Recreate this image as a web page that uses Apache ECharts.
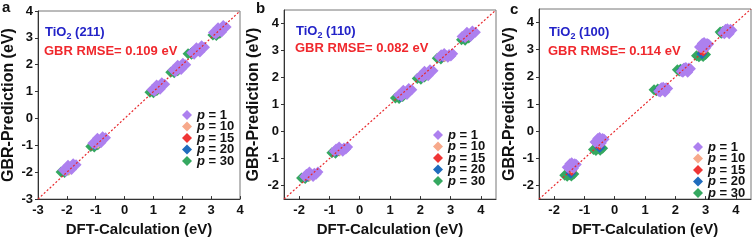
<!DOCTYPE html>
<html>
<head>
<meta charset="utf-8">
<script src="https://cdn.jsdelivr.net/npm/echarts@6/dist/echarts.min.js"></script>
<style>html,body{margin:0;padding:0;background:#fff}#c{width:752px;height:242px}</style>
</head>
<body>
<div id="c"></div>
<script>
// ---------- data ----------
const seriesNames = ['p = 1', 'p = 10', 'p = 15', 'p = 20', 'p = 30'];
const panelLetters = ['a', 'b', 'c'];
const facets = ['(211)', '(110)', '(100)'];
const rmse = ['0.109', '0.082', '0.114'];
const rangeA = [-3, 4], rangeB = [-2.5, 4.5], rangeC = [-2.5, 4.5];
const ticksA = [-3, -2, -1, 0, 1, 2, 3, 4];
const ticksB = [-2, -1, 0, 1, 2, 3, 4];
const ticksC = [-2, -1, 0, 1, 2, 3, 4];

// panel a (211)
const aP1 = [
  [-2.12,-1.92],[-2.0,-1.88],[-1.9,-1.82],[-1.8,-1.76],[-1.68,-1.72],[-1.96,-1.74],[-1.84,-1.9],[-1.78,-1.68],[-2.04,-1.96],
  [-1.1,-0.92],[-0.98,-0.88],[-0.88,-0.82],[-0.78,-0.76],[-0.66,-0.72],[-0.94,-0.74],[-0.82,-0.9],[-0.76,-0.68],[-1.02,-0.96],
  [0.95,1.07],[1.07,1.11],[1.17,1.17],[1.27,1.23],[1.39,1.27],[1.11,1.25],[1.23,1.09],[1.29,1.33],[1.03,1.01],
  [1.68,1.8],[1.8,1.84],[1.9,1.9],[2.0,1.96],[2.12,2.0],[1.84,1.98],[1.96,1.82],[2.02,2.06],[1.76,1.74],
  [2.33,2.45],[2.45,2.49],[2.55,2.55],[2.65,2.61],[2.77,2.65],[2.49,2.63],[2.61,2.47],[2.67,2.71],[2.41,2.39],
  [3.08,3.2],[3.2,3.24],[3.3,3.3],[3.4,3.36],[3.52,3.4],[3.24,3.38],[3.36,3.22],[3.42,3.46],[3.16,3.14]
];
const aP10 = [[-1.92,-1.92],[-0.92,-0.92],[1.12,1.1],[1.86,1.84],[2.5,2.5],[3.26,3.24]];
const aP15 = [[-2.0,-1.9],[-0.97,-0.92],[1.08,1.08],[1.8,1.82],[2.43,2.5],[3.24,3.22]];
const aP20 = [[-2.05,-1.94],[-1.02,-0.98],[1.03,1.04],[1.75,1.78],[2.36,2.47],[3.2,3.18]];
const aP30 = [
  [-2.2,-1.99],[-2.08,-1.95],[-1.96,-1.93],[-2.08,-2.01],
  [-1.17,-1.04],[-1.05,-1.0],[-0.93,-0.98],[-1.05,-1.06],
  [0.88,0.98],[1.0,1.02],[1.12,1.04],[1.0,0.96],
  [1.6,1.72],[1.72,1.76],[1.84,1.78],[1.72,1.7],
  [2.2,2.41],[2.32,2.45],[2.44,2.47],[2.32,2.39],
  [3.06,3.11],[3.18,3.15],[3.3,3.17],[3.18,3.09]
];

// panel b (110)
const bP1 = [
  [-1.82,-1.66],[-1.7,-1.62],[-1.6,-1.58],[-1.5,-1.54],[-1.38,-1.5],[-1.66,-1.5],[-1.54,-1.66],[-1.44,-1.58],[-1.76,-1.58],
  [-0.84,-0.73],[-0.72,-0.69],[-0.62,-0.65],[-0.52,-0.61],[-0.4,-0.57],[-0.68,-0.57],[-0.56,-0.73],[-0.46,-0.65],[-0.78,-0.65],
  [1.28,1.35],[1.4,1.39],[1.5,1.45],[1.6,1.51],[1.72,1.55],[1.44,1.53],[1.56,1.37],[1.62,1.59],[1.38,1.31],
  [1.98,2.05],[2.1,2.09],[2.2,2.15],[2.3,2.21],[2.42,2.25],[2.14,2.23],[2.26,2.07],[2.32,2.29],[2.08,2.01],
  [2.63,2.76],[2.75,2.79],[2.85,2.82],[2.95,2.85],[3.07,2.88],[2.79,2.89],[2.91,2.75],[3.01,2.8],[2.69,2.84],
  [3.38,3.52],[3.5,3.56],[3.6,3.6],[3.7,3.64],[3.82,3.68],[3.54,3.68],[3.66,3.52],[3.72,3.72],[3.48,3.48]
];
const bP10 = [[-1.65,-1.64],[-0.66,-0.7],[1.46,1.4],[2.16,2.1],[2.8,2.78],[3.56,3.56]];
const bP15 = [[-1.7,-1.63],[-0.7,-0.69],[1.4,1.36],[2.1,2.08],[2.76,2.79],[3.52,3.52]];
const bP20 = [[-1.75,-1.66],[-0.76,-0.72],[1.35,1.3],[2.06,2.03],[2.72,2.77],[3.44,3.5]];
const bP30 = [
  [-1.92,-1.72],[-1.8,-1.68],[-1.68,-1.66],[-1.8,-1.74],
  [-0.92,-0.78],[-0.8,-0.74],[-0.68,-0.72],[-0.8,-0.8],
  [1.18,1.24],[1.3,1.28],[1.42,1.3],[1.3,1.22],
  [1.9,1.96],[2.02,2.0],[2.14,2.02],[2.02,1.94],
  [2.56,2.71],[2.68,2.75],[2.8,2.77],[2.68,2.69],
  [3.36,3.4],[3.48,3.44],[3.6,3.46],[3.48,3.38]
];

// panel c (100)
const cP1 = [
  [-1.57,-1.33],[-1.42,-1.28],[-1.27,-1.23],[-1.48,-1.2],[-1.36,-1.36],[-1.32,-1.2],[-1.52,-1.36],[-1.42,-1.16],
  [-0.65,-0.4],[-0.5,-0.35],[-0.35,-0.3],[-0.56,-0.27],[-0.44,-0.43],[-0.4,-0.27],[-0.6,-0.43],[-0.5,-0.23],
  [1.45,1.47],[1.6,1.52],[1.75,1.57],[1.54,1.6],[1.66,1.44],[1.7,1.6],[1.5,1.44],[1.6,1.62],
  [2.2,2.2],[2.35,2.25],[2.5,2.3],[2.29,2.33],[2.41,2.17],[2.45,2.33],[2.25,2.17],[2.35,2.35],
  [2.8,3.1],[2.95,3.15],[3.1,3.2],[2.89,3.23],[3.01,3.07],[3.05,3.23],[2.85,3.07],[2.95,3.27],
  [3.57,3.62],[3.72,3.67],[3.87,3.72],[3.66,3.75],[3.78,3.59],[3.82,3.75],[3.62,3.59],[3.72,3.77]
];
const cP10 = [[-1.42,-1.35],[-0.5,-0.42],[1.55,1.5],[2.3,2.24],[2.95,3.05],[3.68,3.65]];
const cP15 = [[-1.42,-1.45],[-0.5,-0.5],[1.5,1.52],[2.28,2.25],[2.92,2.95],[3.65,3.66]];
const cP20 = [[-1.45,-1.55],[-0.5,-0.6],[1.46,1.52],[2.22,2.25],[2.88,2.85],[3.6,3.65]];
const cP30 = [
  [-1.65,-1.62],[-1.5,-1.6],[-1.35,-1.58],[-1.57,-1.66],[-1.43,-1.65],
  [-0.7,-0.67],[-0.55,-0.65],[-0.4,-0.63],[-0.62,-0.71],[-0.48,-0.7],
  [1.3,1.53],[1.42,1.55],[1.52,1.55],[1.38,1.49],
  [2.07,2.26],[2.17,2.28],[2.27,2.3],[2.13,2.22],
  [2.7,2.78],[2.85,2.8],[3.0,2.82],[2.78,2.74],[2.92,2.75],
  [3.48,3.65],[3.56,3.67],[3.66,3.69],[3.52,3.61]
];

// ---------- chart ----------
const FONT = '"Liberation Sans", Arial, sans-serif';
const colors = {'p = 1':'#ad80ef','p = 10':'#f7a98b','p = 15':'#ef3535','p = 20':'#1f6cbd','p = 30':'#35a860'};

const panels = [
  {range: rangeA, ticks: ticksA, data: [aP1, aP10, aP15, aP20, aP30],
   grid: {left: 34, top: 11, width: 206, height: 190},
   legend: {left: 182, top: 108.5}, tx: 45, ty1: 23, ty2: 45, lx: 2, ly: 0, yGap: 21},
  {range: rangeB, ticks: ticksB, data: [bP1, bP10, bP15, bP20, bP30],
   grid: {left: 284, top: 10, width: 212, height: 194},
   legend: {left: 433, top: 128.5}, tx: 296, ty1: 22, ty2: 42, lx: 256, ly: 1, yGap: 22},
  {range: rangeC, ticks: ticksC, data: [cP1, cP10, cP15, cP20, cP30],
   grid: {left: 539, top: 9, width: 212, height: 193},
   legend: {left: 693, top: 140.5}, tx: 549, ty1: 23, ty2: 45, lx: 510, ly: 2, yGap: 21}
];

const option = {
  animation: false,
  backgroundColor: '#fff',
  textStyle: {fontFamily: FONT},
  grid: [], xAxis: [], yAxis: [], series: [], legend: [], title: []
};

panels.forEach((p, i) => {
  option.grid.push(Object.assign({show: true, borderColor: '#777', borderWidth: 1, backgroundColor: 'transparent'}, p.grid));
  const axisCommon = {
    type: 'value', gridIndex: i, min: p.range[0], max: p.range[1],
    axisLine: {show: true, onZero: false, lineStyle: {color: '#333', width: 1}},
    splitLine: {show: false},
    nameLocation: 'middle'
  };
  option.xAxis.push(Object.assign({}, axisCommon, {
    position: 'bottom',
    axisTick: {show: true, inside: true, length: 3, customValues: p.ticks, lineStyle: {color: '#333'}},
    axisLabel: {customValues: p.ticks, fontFamily: FONT, fontWeight: 'bold', fontSize: 13, color: '#111', margin: 5},
    name: 'DFT-Calculation (eV)', nameGap: 21,
    nameTextStyle: {fontFamily: FONT, fontWeight: 'bold', fontSize: 15, color: '#111'}
  }));
  option.yAxis.push(Object.assign({}, axisCommon, {
    position: 'left',
    axisTick: {show: true, inside: false, length: 3, customValues: p.ticks, lineStyle: {color: '#333'}},
    axisLabel: {customValues: p.ticks, fontFamily: FONT, fontWeight: 'bold', fontSize: 13, color: '#111', margin: 5},
    name: 'GBR-Prediction (eV)', nameGap: p.yGap,
    nameTextStyle: {fontFamily: FONT, fontWeight: 'bold', fontSize: 16, color: '#111'}
  }));
  // draw order: p=30 first, p=1 on top
  for (let k = 4; k >= 0; k--) {
    option.series.push({
      type: 'scatter', name: seriesNames[k], xAxisIndex: i, yAxisIndex: i,
      data: p.data[k], symbol: 'diamond', symbolSize: 11,
      itemStyle: {color: colors[seriesNames[k]], opacity: 1}, z: 2
    });
  }
  option.series.push({
    type: 'line', xAxisIndex: i, yAxisIndex: i, silent: true, symbol: 'none', z: 5,
    data: [[p.range[0], p.range[0]], [p.range[1], p.range[1]]],
    lineStyle: {color: '#e8262a', width: 1.2, type: [2, 2]}
  });
  option.legend.push({
    orient: 'vertical', left: p.legend.left, top: p.legend.top,
    data: seriesNames.slice(), icon: 'diamond', itemWidth: 10, itemHeight: 10, itemGap: -1.5, itemTextGap: 6,
    selectedMode: false, padding: 0, itemStyle: {borderWidth: 0},
    formatter: n => '{i|p}' + n.slice(1),
    textStyle: {fontFamily: FONT, fontWeight: 'bold', fontSize: 13, color: '#111',
      rich: {i: {fontFamily: FONT, fontStyle: 'italic', fontWeight: 'bold', fontSize: 13, color: '#111'}}}
  });
  option.title.push({
    left: p.tx, top: p.ty1, padding: 0,
    text: '{a|TiO}{s|2}{a| ' + facets[i] + '}',
    textStyle: {rich: {
      a: {fontFamily: FONT, fontWeight: 'bold', fontSize: 13, color: '#2323c8', lineHeight: 18, verticalAlign: 'middle'},
      s: {fontFamily: FONT, fontWeight: 'bold', fontSize: 9, color: '#2323c8', lineHeight: 9, verticalAlign: 'bottom'}
    }}
  });
  option.title.push({
    left: p.tx - 1, top: p.ty2, padding: 0,
    text: 'GBR RMSE= ' + rmse[i] + ' eV',
    textStyle: {fontFamily: FONT, fontWeight: 'bold', fontSize: 13, color: '#f0282d'}
  });
  option.title.push({
    left: p.lx, top: p.ly, padding: 0, text: panelLetters[i],
    textStyle: {fontFamily: FONT, fontWeight: 'bold', fontSize: 15, color: '#111'}
  });
});

const chart = echarts.init(document.getElementById('c'), null, {renderer: 'canvas'});
chart.setOption(option);
</script>
</body>
</html>
